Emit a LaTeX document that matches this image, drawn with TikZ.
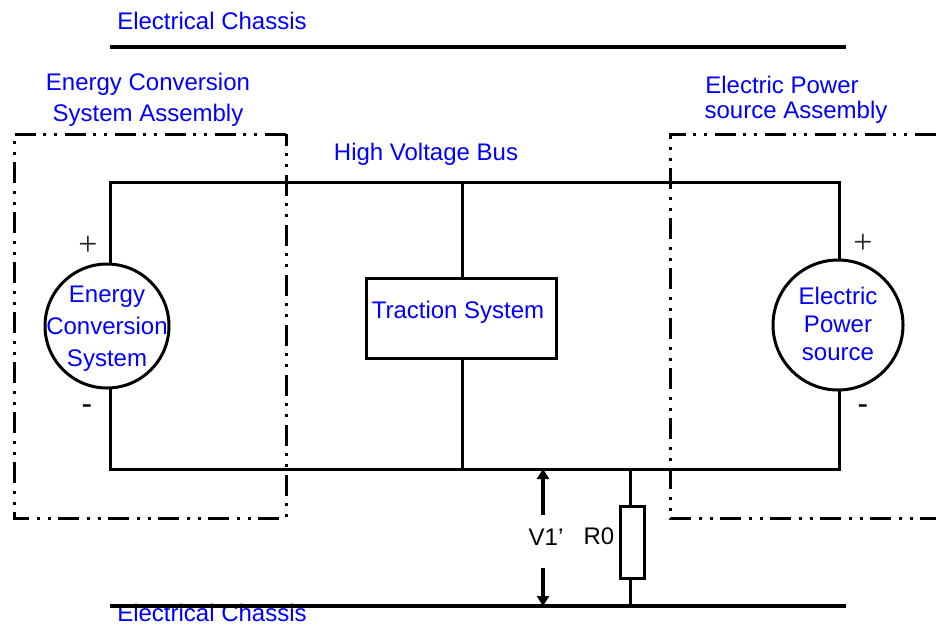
\documentclass[tikz,border=0pt]{standalone}
\usepackage{fontspec}
\setmainfont{Liberation Sans}
\newfontfamily\serifsym{Liberation Serif}
\usetikzlibrary{arrows.meta}
\definecolor{lblue}{RGB}{0,0,255}
\tikzset{
  x=1pt,y=-1pt,
  wire/.style={line width=3pt,black},
  chassis/.style={line width=4pt,black},
  assembly/.style={line width=3pt,black,dash pattern=on 21pt off 8pt on 3pt off 8pt on 3pt off 7pt},
  lbl/.style={text=lblue,font=\fontsize{24}{30}\selectfont,inner sep=0pt,align=center},
  blk/.style={text=black,font=\fontsize{24}{30}\selectfont,inner sep=0pt},
  sym/.style={text=black!85,font=\serifsym\fontsize{34}{36}\selectfont,inner sep=0pt},
  minus/.style={text=black,font=\fontsize{32}{36}\selectfont,inner sep=0pt},
  device/.style={draw=black,line width=3pt,fill=white,inner sep=0pt},
  volt/.style={line width=4.5pt,black,-{Triangle[length=10pt,width=12pt]}},
}
\begin{document}
\begin{tikzpicture}
\useasboundingbox (0,0) rectangle (936,624);
% labels
\node[lbl] (t1) at (212,21) {Electrical Chassis};
\node[lbl] (t2) at (212,613) {Electrical Chassis};
\node[lbl] (t3a) at (148,84) {Energy Conversion};
\node[lbl] (t3b) at (148,115) {System Assembly};
\node[lbl] (t4a) at (782,85) {Electric Power};
\node[lbl] (t4b) at (796,112) {source Assembly};
\node[lbl] (t5) at (426,154) {High Voltage Bus};
% assemblies
\coordinate (a1) at (14,134); \coordinate (a2) at (286,134);
\coordinate (a3) at (286,518); \coordinate (a4) at (14,518);
\draw[assembly] (a2) -- (a1) -- (a4) -- (a3) -- cycle;
\coordinate (b1) at (936,134); \coordinate (b2) at (670,134);
\coordinate (b3) at (670,518); \coordinate (b4) at (936,518);
\draw[assembly] (b1) -- (b2) -- (b3) -- (b4);
% chassis
\coordinate (c1) at (110,47); \coordinate (c2) at (846,47);
\coordinate (c3) at (110,606); \coordinate (c4) at (846,606);
\draw[chassis] (c1) -- (c2);
\draw[chassis] (c3) -- (c4);
% devices
\node[device,circle,minimum size=124pt] (ecs) at (107,326) {};
\node[lbl] (ecst) at (107,329) {Energy\\[2pt]Conversion\\[2pt]System};
\node[device,circle,minimum size=130pt] (eps) at (838,325) {};
\node[lbl] (epst) at (838,324) {Electric\\[-2pt]Power\\[-2pt]source};
\node[device,minimum width=190pt,minimum height=80pt] (ts) at (461,318) {};
\node[lbl] (tst) at (458,312) {Traction System};
\node[device,minimum width=24pt,minimum height=72pt] (r0) at (632,542) {};
% bus
\coordinate (tl) at (110,182); \coordinate (tm) at (462,182); \coordinate (tr) at (839,182);
\coordinate (bl) at (110,469); \coordinate (bm) at (462,469); \coordinate (bv) at (543,469);
\coordinate (br) at (839,469); \coordinate (rt) at (630,469); \coordinate (rb) at (630,606);
\coordinate (lt) at (110,264); \coordinate (lb) at (110,388);
\coordinate (rtw) at (839,260); \coordinate (rbw) at (839,390);
\coordinate (st) at (462,278); \coordinate (sb) at (462,358);
\coordinate (rrt) at (630,506); \coordinate (rrb) at (630,578);
\draw[wire] (lt) -- (tl) -- (tr) -- (rtw);
\draw[wire] (lb) -- (bl) -- (br) -- (rbw);
\draw[wire] (tm) -- (st);
\draw[wire] (sb) -- (bm);
\draw[wire] (rt) -- (rrt);
\draw[wire] (rrb) -- (rb);
% voltage arrow
\coordinate (vu) at (543,515); \coordinate (vd) at (543,568); \coordinate (vb) at (543,606);
\draw[volt] (vu) -- (bv);
\draw[volt] (vd) -- (vb);
\node[blk] (v1) at (546,537) {V1’};
\node[blk] (r0t) at (599,536) {R0};
% polarity
\node[sym] (p1) at (88,246) {+};
\node[minus] (m1) at (87,410) {-};
\node[sym] (p2) at (863,244) {+};
\node[minus] (m2) at (863,410) {-};
\end{tikzpicture}
\end{document}
